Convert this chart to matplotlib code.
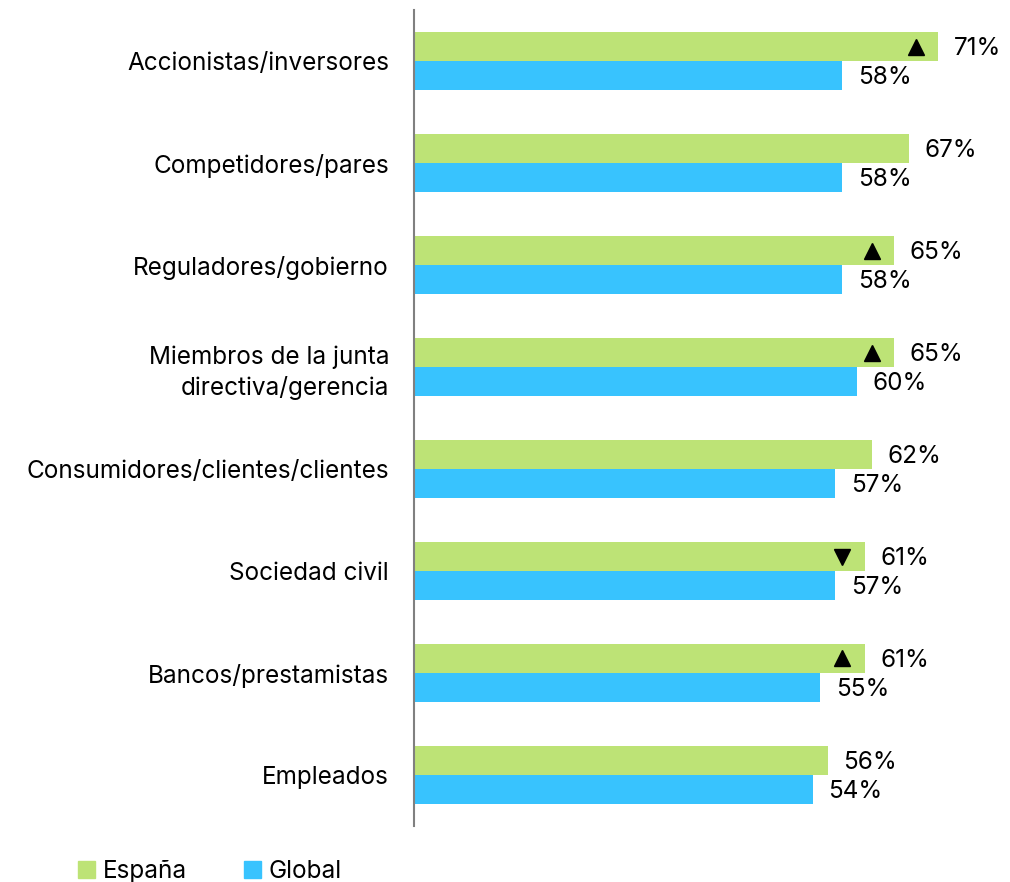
import matplotlib.pyplot as plt
from matplotlib.patches import Patch
import numpy as np

plt.rcParams['font.family'] = ['Inter', 'DejaVu Sans']

# --- Data ---
categories = [
    "Accionistas/inversores",
    "Competidores/pares",
    "Reguladores/gobierno",
    "Miembros de la junta\ndirectiva/gerencia",
    "Consumidores/clientes/clientes",
    "Sociedad civil",
    "Bancos/prestamistas",
    "Empleados",
]
espana = [71, 67, 65, 65, 62, 61, 61, 56]
global_vals = [58, 58, 58, 60, 57, 57, 55, 54]
# significance arrows shown inside the España bar
arrows = ['^', None, '^', '^', None, 'v', '^', None]

green = '#BDE376'
blue = '#38C3FE'
fs = 17.5

fig = plt.figure(figsize=(10.1, 8.82), dpi=100)
ax = fig.add_axes([0.41, 0.0635, 0.585, 0.925])

y = np.arange(len(categories))
h = 0.285

ax.barh(y - h / 2, espana, height=h, color=green)
ax.barh(y + h / 2, global_vals, height=h, color=blue)

for i, (e, g, m) in enumerate(zip(espana, global_vals, arrows)):
    ax.text(e + 2.1, i - h / 2 + 0.02, f"{e}%", va='center', ha='left', fontsize=fs)
    ax.text(g + 2.1, i + h / 2 + 0.02, f"{g}%", va='center', ha='left', fontsize=fs)
    if m:
        ax.plot(e - 3, i - h / 2, marker=m, color='black', markersize=12,
                linestyle='none')

ax.set_xlim(0, 80)
ax.set_ylim(len(categories) - 0.5, -0.5)
ax.set_yticks(y)
ax.set_yticklabels(categories, fontsize=fs, linespacing=1.35)
ax.tick_params(axis='y', length=0, pad=18)
ax.set_xticks([])

for s in ['top', 'right', 'bottom']:
    ax.spines[s].set_visible(False)
ax.spines['left'].set_color('#808080')
ax.spines['left'].set_linewidth(1.5)

handles = [Patch(color=green, label='España'), Patch(color=blue, label='Global')]
fig.legend(handles=handles, loc='lower left', bbox_to_anchor=(0.056, -0.026),
           ncol=2, frameon=False, fontsize=fs, handlelength=0.7,
           handleheight=0.7, handletextpad=0.3, columnspacing=2.35)

fig.savefig("out.png", dpi=100)
